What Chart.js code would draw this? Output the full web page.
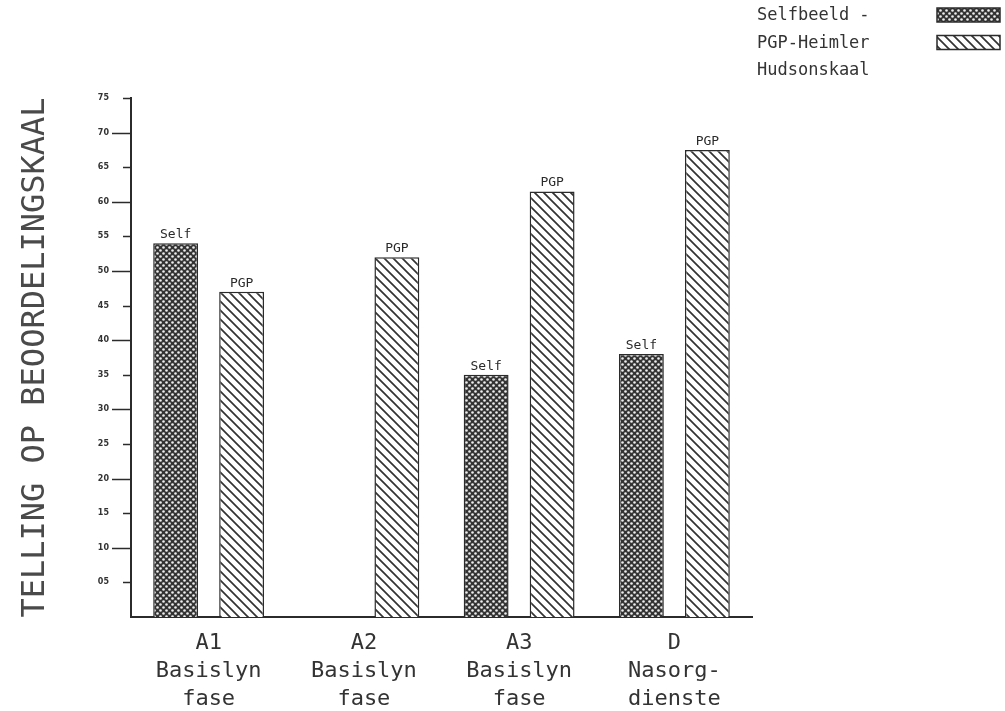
<!DOCTYPE html>
<html>
<head>
<meta charset="utf-8">
<script src="https://cdn.jsdelivr.net/npm/chart.js@4.4.1/dist/chart.umd.min.js"></script>
<style>
  html, body { margin: 0; padding: 0; background: #ffffff; }
  #wrap { width: 1005px; height: 711px; position: relative; }
</style>
</head>
<body>
<div id="wrap"><canvas id="c" width="1005" height="711"></canvas></div>
<script>
// ---- data ----
const categories = [
  ["A1", "Basislyn", "fase"],
  ["A2", "Basislyn", "fase"],
  ["A3", "Basislyn", "fase"],
  ["D", "Nasorg-", "dienste"]
];
const selfValues = [54, null, 35, 38];
const pgpValues = [47, 52, 61.5, 67.5];
const seriesNames = ["Selfbeeld -", "PGP-Heimler Hudsonskaal"];
const legendLines = [["Selfbeeld -"], ["PGP-Heimler", "Hudsonskaal"]];
const barTags = ["Self", "PGP"];
const yTitle = "TELLING OP BEOORDELINGSKAAL";
const yMin = 0, yMax = 75, yStep = 5;

const INK = '#2b2b2b';
const MONO = '"DejaVu Sans Mono", "Liberation Mono", monospace';

// ---- patterns ----
function makeCrossPattern() {
  const c = document.createElement('canvas');
  c.width = 6; c.height = 6;
  const g = c.getContext('2d');
  g.fillStyle = '#333333';
  g.fillRect(0, 0, 6, 6);
  g.fillStyle = '#eeeeee';
  [[1.5, 1.5], [4.5, 4.5]].forEach(p => {
    g.beginPath(); g.arc(p[0], p[1], 1.3, 0, Math.PI * 2); g.fill();
  });
  return g.createPattern(c, 'repeat');
}
function makeHatchPattern() {
  const s = 9;
  const c = document.createElement('canvas');
  c.width = s; c.height = s;
  const g = c.getContext('2d');
  g.fillStyle = '#ffffff';
  g.fillRect(0, 0, s, s);
  g.strokeStyle = '#333333';
  g.lineWidth = 1.7;
  g.beginPath();
  g.moveTo(-1, -1); g.lineTo(s + 1, s + 1);
  g.moveTo(-1, s - 1); g.lineTo(1, s + 1);
  g.moveTo(s - 1, -1); g.lineTo(s + 1, 1);
  g.stroke();
  return g.createPattern(c, 'repeat');
}
const selfFill = makeCrossPattern();
const pgpFill = makeHatchPattern();
const fills = [selfFill, pgpFill];

// ---- plugins ----
const yTicksPlugin = {
  id: 'yTicks',
  afterDraw(chart) {
    const y = chart.scales.y, ctx = chart.ctx;
    const x0 = chart.chartArea.left;
    ctx.save();
    ctx.strokeStyle = INK;
    ctx.lineWidth = 1.5;
    for (let v = yMin + yStep; v <= yMax; v += yStep) {
      const py = Math.round(y.getPixelForValue(v)) + 0.5;
      const len = (v % 10 === 0) ? 19 : 8;
      ctx.beginPath();
      ctx.moveTo(x0 - len, py);
      ctx.lineTo(x0, py);
      ctx.stroke();
    }
    ctx.restore();
  }
};

const barTagPlugin = {
  id: 'barTags',
  afterDatasetsDraw(chart) {
    const ctx = chart.ctx;
    ctx.save();
    ctx.font = '13px ' + MONO;
    ctx.fillStyle = INK;
    ctx.textAlign = 'center';
    ctx.textBaseline = 'bottom';
    chart.data.datasets.forEach((ds, di) => {
      const meta = chart.getDatasetMeta(di);
      meta.data.forEach((bar, i) => {
        if (ds.data[i] === null || ds.data[i] === undefined) return;
        ctx.fillText(barTags[di], bar.x, bar.y - 2);
      });
    });
    ctx.restore();
  }
};

const legendPlugin = {
  id: 'cornerLegend',
  afterDraw(chart) {
    const ctx = chart.ctx;
    ctx.save();
    ctx.font = '17px ' + MONO;
    ctx.textAlign = 'left';
    ctx.textBaseline = 'middle';
    const textX = 757, swX = 937, swW = 63, swH = 14;
    let lineY = 16;
    legendLines.forEach((lines, di) => {
      const top = lineY - 1 - swH / 2;
      ctx.fillStyle = fills[di];
      ctx.fillRect(swX, top, swW, swH);
      ctx.strokeStyle = INK;
      ctx.lineWidth = 1.5;
      ctx.strokeRect(swX, top, swW, swH);
      ctx.fillStyle = '#333';
      lines.forEach(t => {
        ctx.fillText(t, textX, lineY);
        lineY += 27.5;
      });
    });
    ctx.restore();
  }
};

// ---- chart ----
new Chart(document.getElementById('c'), {
  type: 'bar',
  data: {
    labels: categories,
    datasets: [
      {
        label: seriesNames[0],
        data: selfValues,
        backgroundColor: selfFill,
        borderColor: INK,
        borderWidth: 1.5,
        categoryPercentage: 0.85,
        barPercentage: 0.68
      },
      {
        label: seriesNames[1],
        data: pgpValues,
        backgroundColor: pgpFill,
        borderColor: INK,
        borderWidth: 1.5,
        categoryPercentage: 0.85,
        barPercentage: 0.68
      }
    ]
  },
  options: {
    responsive: false,
    animation: false,
    devicePixelRatio: 1,
    layout: { padding: { top: 98, right: 253, bottom: 0, left: 0 } },
    plugins: {
      legend: { display: false },
      tooltip: { enabled: false }
    },
    scales: {
      x: {
        grid: { display: false },
        border: { display: true, color: INK, width: 2 },
        ticks: {
          color: '#333',
          font: { family: MONO, size: 22, lineHeight: 1.27 },
          padding: 4,
          maxRotation: 0,
          autoSkip: false
        },
        afterFit(scale) { scale.height = 94; }
      },
      y: {
        min: yMin,
        max: yMax,
        grid: { display: false, drawTicks: false },
        border: { display: true, color: INK, width: 2 },
        ticks: {
          stepSize: yStep,
          color: '#333',
          padding: 22,
          font: { family: '"DejaVu Sans"', size: 8, weight: 'bold' },
          callback(v) { return v === 0 ? '' : String(v).padStart(2, '0'); }
        },
        title: {
          display: true,
          text: yTitle,
          color: '#4a4a4a',
          font: { family: MONO, size: 32, weight: 'normal' },
          padding: { top: 16, bottom: 0 }
        },
        afterFit(scale) { scale.width = 131; }
      }
    }
  },
  plugins: [yTicksPlugin, barTagPlugin, legendPlugin]
});
</script>
</body>
</html>
